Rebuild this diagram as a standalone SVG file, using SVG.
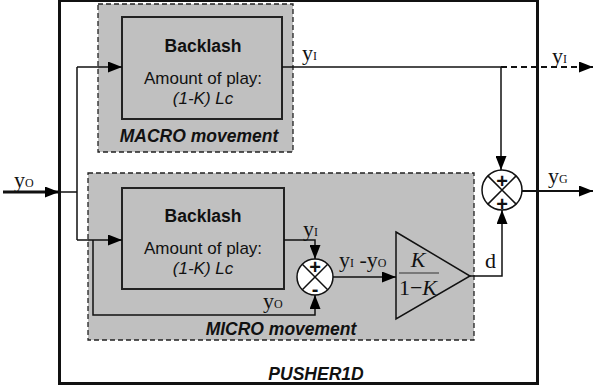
<svg xmlns="http://www.w3.org/2000/svg" width="593" height="389" viewBox="0 0 593 389">
<defs>
<marker id="ah" markerWidth="14" markerHeight="11" refX="14" refY="5.5" orient="auto" markerUnits="userSpaceOnUse">
<path d="M0,0 L14,5.5 L0,11 Z" fill="#000"/>
</marker>
</defs>
<style>
.sans{font-family:"Liberation Sans",Arial,sans-serif;fill:#111;font-size:17.5px;}
.sm{font-size:17px;}
.b{font-weight:bold;}
.i{font-style:italic;}
.ser{font-family:"Liberation Serif","Times New Roman",serif;fill:#111;font-size:22px;}
.sub{font-size:12px;}
.dash{fill:#c0c0c0;stroke:#222;stroke-width:1.3;stroke-dasharray:5,3;}
.blk{fill:#c0c0c0;stroke:#222;stroke-width:2;}
.ln{fill:none;stroke:#111;stroke-width:1.5;}
.sum{fill:#fff;stroke:#111;stroke-width:1.5;}
.ssign{font-family:"Liberation Sans",Arial,sans-serif;font-size:20px;fill:#111;text-anchor:middle;}
</style>
<rect width="593" height="389" fill="#fff"/>
<g id="pusher">
<rect x="59.5" y="0.5" width="478" height="383" fill="none" stroke="#111" stroke-width="3"/>
<text class="sans b i" x="316" y="380" text-anchor="middle">PUSHER1D</text>
</g>
<g id="macro">
<rect class="dash" x="98" y="4" width="195" height="148"/>
<text class="sans b i" x="199" y="142" text-anchor="middle">MACRO movement</text>
</g>
<g id="micro">
<rect class="dash" x="88" y="173" width="386" height="167"/>
<text class="sans b i" x="281" y="335" text-anchor="middle">MICRO movement</text>
</g>
<g id="backlash-macro">
<rect class="blk" x="122" y="17" width="160" height="102"/>
<text class="sans b" x="203" y="52" text-anchor="middle">Backlash</text>
<text class="sans sm" x="203" y="84" text-anchor="middle">Amount of play:</text>
<text class="sans sm i" x="203" y="104" text-anchor="middle">(1-K) Lc</text>
</g>
<g id="backlash-micro">
<rect class="blk" x="122" y="188" width="162" height="101"/>
<text class="sans b" x="203" y="222" text-anchor="middle">Backlash</text>
<text class="sans sm" x="203" y="254" text-anchor="middle">Amount of play:</text>
<text class="sans sm i" x="203" y="274" text-anchor="middle">(1-K) Lc</text>
</g>
<g id="sum-micro">
<circle class="sum" cx="315" cy="277" r="18"/>
<path class="ln" d="M302.3,264.3 L327.7,289.7 M327.7,264.3 L302.3,289.7"/>
<text class="ssign b" x="315" y="274">+</text>
<text class="ssign b" x="315" y="296">-</text>
</g>
<g id="gain">
<polygon points="396,232 470,276 396,319" fill="#c0c0c0" stroke="#111" stroke-width="1.5"/>
<text class="ser i" x="418" y="267" text-anchor="middle">K</text>
<line x1="399" y1="273" x2="439" y2="273" stroke="#333" stroke-width="1.2"/>
<text class="ser" x="418" y="295" text-anchor="middle">1−<tspan font-style="italic">K</tspan></text>
</g>
<g id="sum-out">
<circle class="sum" cx="502" cy="190" r="20"/>
<path class="ln" d="M487.9,175.9 L516.1,204.1 M516.1,175.9 L487.9,204.1"/>
<text class="ssign b" x="502" y="188">+</text>
<text class="ssign b" x="502" y="211">+</text>
</g>
<g id="connectors">
<line x1="3" y1="192" x2="59" y2="192" stroke="#111" stroke-width="3" marker-end="url(#ah)"/>
<path class="ln" d="M59,192 H77 M77,67 V240"/>
<path class="ln" d="M77,67 H122" marker-end="url(#ah)"/>
<path class="ln" d="M77,240 H122" marker-end="url(#ah)"/>
<path class="ln" d="M93,240 V315 H315 V295" marker-end="url(#ah)"/>
<path class="ln" d="M284,240 H315 V259" marker-end="url(#ah)"/>
<path class="ln" d="M333,277 H396" marker-end="url(#ah)"/>
<path class="ln" d="M470,276 H502 V210" marker-end="url(#ah)"/>
<path class="ln" d="M282,67 H501"/>
<path class="ln" d="M501,67 V170" marker-end="url(#ah)"/>
<line x1="501" y1="67" x2="593" y2="67" stroke="#111" stroke-width="2" stroke-dasharray="6,4" marker-end="url(#ah)"/>
<line x1="522" y1="191" x2="593" y2="191" stroke="#111" stroke-width="2" marker-end="url(#ah)"/>
</g>
<g id="labels">
<text class="ser" x="14" y="187">y<tspan class="sub">O</tspan></text>
<text class="ser" x="302" y="60">y<tspan class="sub">I</tspan></text>
<text class="ser" x="552" y="63">y<tspan class="sub">I</tspan></text>
<text class="ser" x="548" y="183">y<tspan class="sub">G</tspan></text>
<text class="ser" x="303" y="236">y<tspan class="sub">I</tspan></text>
<text class="ser" x="263" y="308">y<tspan class="sub">O</tspan></text>
<text class="ser" x="339" y="267">y<tspan class="sub">I</tspan> -y<tspan class="sub">O</tspan></text>
<text class="ser" x="485" y="268">d</text>
</g>
</svg>
